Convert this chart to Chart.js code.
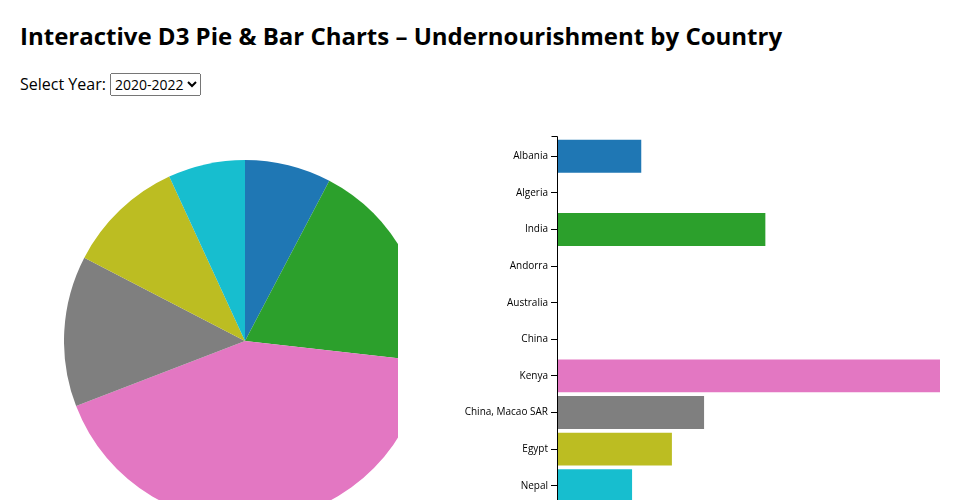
<!DOCTYPE html>
<html>
<head>
<meta charset="utf-8">
<script src="https://cdn.jsdelivr.net/npm/chart.js@4"></script>
<style>
  html, body { margin: 0; padding: 0; width: 960px; height: 500px; overflow: hidden; background: #fff; font-family: "Open Sans", sans-serif; }
  h1 { position: absolute; left: 20px; top: 24px; margin: 0; font-size: 24px; line-height: 24px; font-weight: 700; color: #000; white-space: nowrap; }
  #ctrl { position: absolute; left: 20px; top: 73px; font-size: 16px; line-height: 23px; color: #000; }
  #ctrl select { font-family: "Open Sans", sans-serif; font-size: 14px; height: 23px; vertical-align: top; margin-left: 0; padding: 0; }
  #pieWrap { position: absolute; left: 0; top: 0; width: 398px; height: 500px; overflow: hidden; }
  #pie { position: absolute; left: 64px; top: 160px; }
  #bar { position: absolute; left: 440px; top: 129px; }
</style>
</head>
<body>
<h1>Interactive D3 Pie &amp; Bar Charts – Undernourishment by Country</h1>
<div id="ctrl">Select Year: <select><option>2020-2022</option></select></div>
<div id="pieWrap"><canvas id="pie" width="362" height="362"></canvas></div>
<canvas id="bar" width="500" height="384"></canvas>
<script>
// Countries (year 2020-2022), prevalence of undernourishment (%); null = "<2.5" (not plotted)
const countries = ["Albania", "Algeria", "India", "Andorra", "Australia", "China", "Kenya", "China, Macao SAR", "Egypt", "Nepal"];
const values = [5.5, null, 13.6, null, null, null, 30.2, 9.6, 7.5, 4.9];
const colors = ["#1f77b4", "#ff7f0e", "#2ca02c", "#d62728", "#9467bd", "#8c564b", "#e377c2", "#7f7f7f", "#bcbd22", "#17becf"];
const xMax = 25;

new Chart(document.getElementById("pie"), {
  type: "pie",
  data: { labels: countries, datasets: [{ data: values, backgroundColor: colors, borderWidth: 0 }] },
  options: {
    responsive: false, animation: false,
    layout: { padding: 0 },
    plugins: { legend: { display: false }, tooltip: { enabled: false } }
  }
});

const outerTick = {
  id: "outerTick",
  afterDraw(chart) {
    const ctx = chart.ctx, a = chart.chartArea;
    const top = Math.round(a.top - 1.83) + 0.5, x = Math.round(a.left) + 0.5;
    ctx.save();
    ctx.strokeStyle = "#000"; ctx.lineWidth = 1;
    ctx.beginPath(); ctx.moveTo(x - 6, top); ctx.lineTo(x, top); ctx.lineTo(x, a.bottom + 2); ctx.stroke();
    ctx.restore();
  }
};

new Chart(document.getElementById("bar"), {
  type: "bar",
  data: { labels: countries, datasets: [{ data: values, backgroundColor: colors, borderWidth: 0, barPercentage: 0.9, categoryPercentage: 1.0 }] },
  options: {
    indexAxis: "y", responsive: false, animation: false,
    layout: { padding: { top: 1.83, bottom: 1.83, left: 0, right: 0 } },
    plugins: { legend: { display: false }, tooltip: { enabled: false } },
    scales: {
      x: { display: false, min: 0, max: xMax },
      y: {
        offset: true,
        afterFit(scale) { scale.width = 117; },
        grid: { display: true, drawOnChartArea: false, drawTicks: true, tickLength: 6, offset: false, color: "#000", lineWidth: 1 },
        border: { display: true, color: "#000", width: 1 },
        ticks: { color: "#000", padding: 3, font: { family: "Open Sans", size: 10 } }
      }
    }
  },
  plugins: [outerTick]
});
</script>
</body>
</html>
